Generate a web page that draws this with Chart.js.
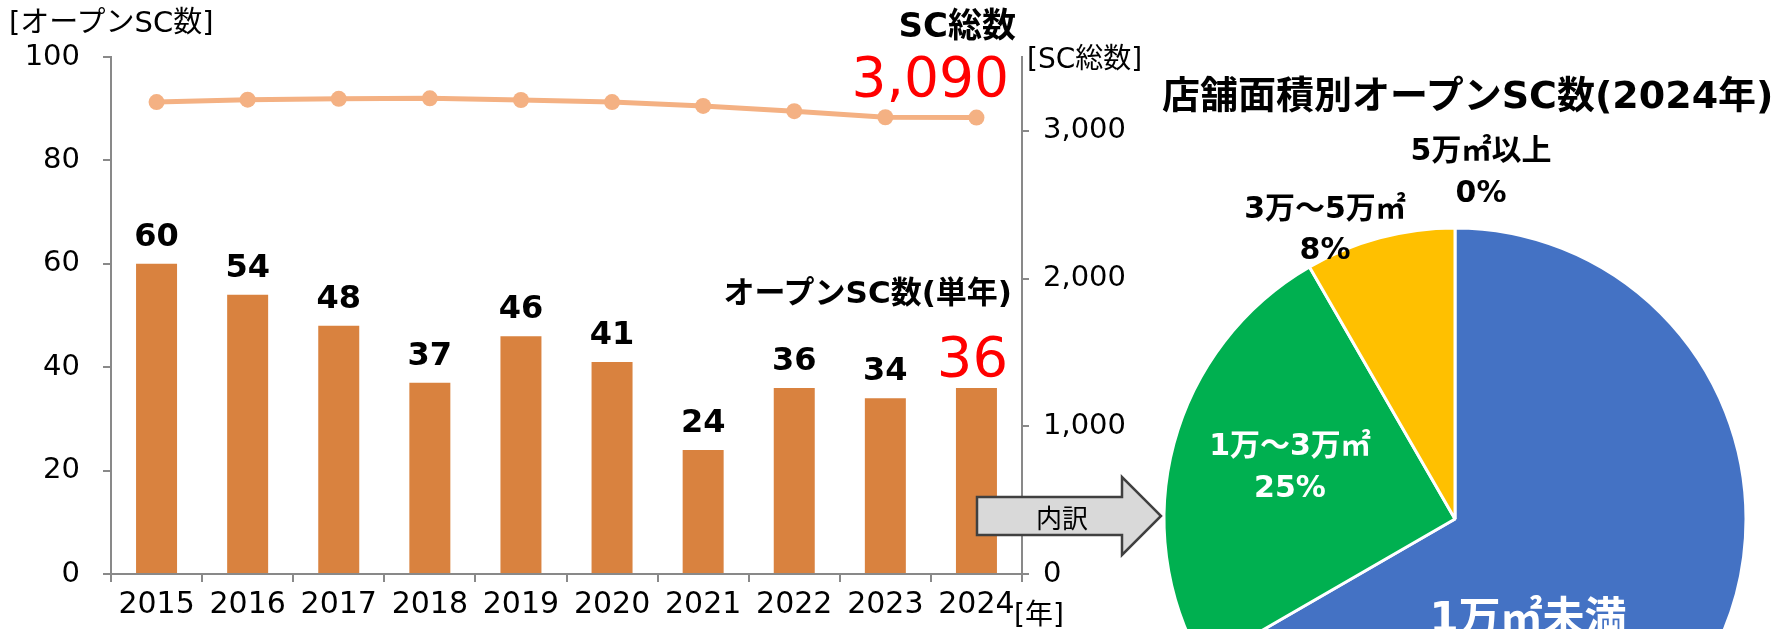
<!DOCTYPE html>
<html lang="ja">
<head>
<meta charset="utf-8">
<script src="https://cdn.jsdelivr.net/npm/chart.js@4.4.1/dist/chart.umd.min.js"></script>
<style>
html, body { margin: 0; padding: 0; width: 1788px; height: 629px; overflow: hidden; background: #fff; }
#combo { position: absolute; left: 0; top: 0; }
#pie { position: absolute; left: 1155px; top: 219px; }
#overlay { position: absolute; left: 0; top: 0; pointer-events: none; }
#overlay text { font-family: "DejaVu Sans", "Noto Sans CJK JP", sans-serif; }
</style>
</head>
<body>
<canvas id="combo" width="1170" height="629"></canvas>
<canvas id="pie" width="600" height="600"></canvas>
<svg id="overlay" width="1788" height="629" xmlns="http://www.w3.org/2000/svg">
  <polygon points="977,497 1122,497 1122,477 1161,516 1122,555 1122,535 977,535"
           fill="#D9D9D9" stroke="#404040" stroke-width="2.5" stroke-linejoin="miter"/>
  <g id="labels"></g>
</svg>
<script>
// --- data ---
const years = ['2015', '2016', '2017', '2018', '2019', '2020', '2021', '2022', '2023', '2024'];
const openCounts = [60, 54, 48, 37, 46, 41, 24, 36, 34, 36];
const totalCounts = [3195, 3211, 3217, 3220, 3209, 3195, 3169, 3133, 3092, 3090];
const openTicks = [0, 20, 40, 60, 80, 100];
const totalTicks = [0, 1000, 2000, 3000];
const totalAxisMax = 3500;

const areaNames = ['1万㎡未満', '1万～3万㎡', '3万～5万㎡', '5万㎡以上'];
const areaCounts = [24, 9, 3, 0];

const FONT = '"DejaVu Sans", "Noto Sans CJK JP", sans-serif';
const AXIS = '#898989';
Chart.defaults.font.family = FONT;
Chart.defaults.color = '#000';

// value labels above the bars
const barLabels = {
    id: 'barLabels',
    afterDatasetsDraw(chart) {
        const meta = chart.getDatasetMeta(1);
        const ctx = chart.ctx;
        ctx.save();
        ctx.textAlign = 'center';
        ctx.textBaseline = 'alphabetic';
        meta.data.forEach((bar, i) => {
            const last = i === openCounts.length - 1;
            ctx.font = last ? `56px ${FONT}` : `bold 32px ${FONT}`;
            ctx.fillStyle = last ? '#FF0000' : '#000';
            ctx.fillText(String(openCounts[i]), bar.x - (last ? 4 : 0), bar.y - (last ? 12 : 18));
        });
        ctx.restore();
    }
};

new Chart(document.getElementById('combo'), {
    data: {
        labels: years,
        datasets: [{
            type: 'line',
            data: totalCounts,
            yAxisID: 'y2',
            borderColor: '#F4B183',
            backgroundColor: '#F4B183',
            borderWidth: 5,
            pointRadius: 8,
            pointBorderWidth: 0,
            pointBackgroundColor: '#F4B183',
            tension: 0,
            order: 0
        }, {
            type: 'bar',
            data: openCounts,
            yAxisID: 'y',
            backgroundColor: '#D9823F',
            categoryPercentage: 1,
            barPercentage: 0.45,
            order: 1
        }]
    },
    options: {
        responsive: false,
        animation: false,
        layout: { padding: { top: 57, left: 0, right: 0, bottom: 0 } },
        plugins: { legend: { display: false }, tooltip: { enabled: false } },
        scales: {
            x: {
                grid: { drawOnChartArea: false, tickLength: 8, color: AXIS, lineWidth: 2 },
                border: { color: AXIS, width: 2 },
                ticks: { font: { size: 30 }, padding: 5, maxRotation: 0, autoSkip: false },
                afterFit: s => { s.height = 55; }
            },
            y: {
                position: 'left',
                min: 0, max: openTicks[openTicks.length - 1],
                afterBuildTicks: s => { s.ticks = openTicks.map(v => ({ value: v })); },
                grid: { drawOnChartArea: false, tickLength: 8, color: AXIS, lineWidth: 2 },
                border: { color: AXIS, width: 2 },
                ticks: { font: { size: 29 }, padding: 23 },
                afterFit: s => { s.width = 111; }
            },
            y2: {
                position: 'right',
                min: 0, max: totalAxisMax,
                afterBuildTicks: s => { s.ticks = totalTicks.map(v => ({ value: v })); },
                grid: { drawOnChartArea: false, tickLength: 7, color: AXIS, lineWidth: 2 },
                border: { color: AXIS, width: 2 },
                ticks: { font: { size: 29 }, padding: 14, callback: v => v.toLocaleString('en-US') },
                afterFit: s => { s.width = 1170 - 1022; }
            }
        }
    },
    plugins: [barLabels]
});

new Chart(document.getElementById('pie'), {
    type: 'pie',
    data: {
        labels: areaNames,
        datasets: [{
            data: areaCounts,
            backgroundColor: ['#4472C4', '#00B050', '#FFC000', '#A5A5A5'],
            borderColor: '#fff',
            borderWidth: 3
        }]
    },
    options: {
        responsive: false,
        animation: false,
        radius: 291,
        layout: { padding: 0 },
        plugins: { legend: { display: false }, tooltip: { enabled: false } }
    }
});

// --- text annotations ---
const areaTotal = areaCounts.reduce((a, b) => a + b, 0);
const pct = i => Math.round(areaCounts[i] / areaTotal * 100) + '%';
const last = a => a[a.length - 1];

const notes = [
    { t: '[オープンSC数]', x: 9, y: 32, size: 29 },
    { t: 'SC総数', x: 1016, y: 37, size: 34, weight: 'bold', anchor: 'end' },
    { t: last(totalCounts).toLocaleString('en-US'), x: 1009, y: 96, size: 55, fill: '#FF0000', anchor: 'end' },
    { t: '[SC総数]', x: 1027, y: 68, size: 28 },
    { t: 'オープンSC数(単年)', x: 1012, y: 303, size: 31, weight: 'bold', anchor: 'end' },
    { t: '[年]', x: 1014, y: 624, size: 28 },
    { t: '内訳', x: 1062, y: 528, size: 26, anchor: 'middle' },
    { t: '店舗面積別オープンSC数(2024年)', x: 1162, y: 108, size: 38, weight: 'bold' }
];

// pie slice labels: name on one line, share below
const sliceSpots = [
    { x: 1528, y: 632, size: 42, gap: 58, fill: '#fff' },
    { x: 1290, y: 455, size: 30, gap: 42, fill: '#fff' },
    { x: 1325, y: 218, size: 30, gap: 41, fill: '#000' },
    { x: 1481, y: 160, size: 30, gap: 42, fill: '#000' }
];
sliceSpots.forEach((s, i) => {
    notes.push({ t: areaNames[i], x: s.x, y: s.y, size: s.size, weight: 'bold', fill: s.fill, anchor: 'middle' });
    notes.push({ t: pct(i), x: s.x, y: s.y + s.gap, size: s.size, weight: 'bold', fill: s.fill, anchor: 'middle' });
});

const g = document.getElementById('labels');
notes.forEach(n => {
    const el = document.createElementNS('http://www.w3.org/2000/svg', 'text');
    el.setAttribute('x', n.x);
    el.setAttribute('y', n.y);
    el.setAttribute('font-size', n.size);
    el.setAttribute('font-weight', n.weight || 'normal');
    el.setAttribute('fill', n.fill || '#000');
    el.setAttribute('text-anchor', n.anchor || 'start');
    el.textContent = n.t;
    g.appendChild(el);
});
</script>
</body>
</html>
